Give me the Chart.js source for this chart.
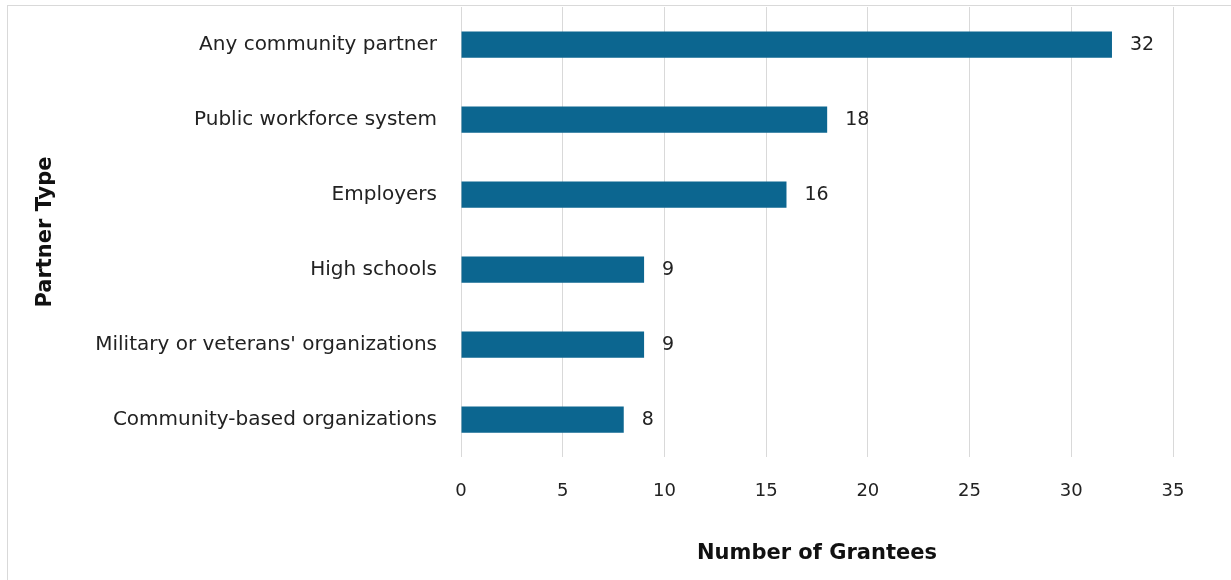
<!DOCTYPE html>
<html>
<head>
<meta charset="utf-8">
<script src="https://cdn.jsdelivr.net/npm/chart.js@4"></script>
<style>
  html, body { margin: 0; padding: 0; background: #fff; }
  #wrap { position: relative; width: 1231px; height: 580px; }
  #frame { position: absolute; left: 7px; top: 5px; right: 0; bottom: 0;
           border-top: 1px solid #d9d9d9; border-left: 1px solid #d9d9d9; }
  canvas { position: absolute; left: 0; top: 0; }
</style>
</head>
<body>
<div id="wrap">
  <div id="frame"></div>
  <canvas id="chart" width="1231" height="580"></canvas>
</div>
<script>
const partnerTypes = [
    'Any community partner',
    'Public workforce system',
    'Employers',
    'High schools',
    "Military or veterans' organizations",
    'Community-based organizations'
];
const grantees = [32, 18, 16, 9, 9, 8];
const xTicks = [0, 5, 10, 15, 20, 25, 30, 35];

const FONT = '"DejaVu Sans", sans-serif';
const TEXT = '#222';

// numbers at the end of each bar
const valueLabels = {
    id: 'valueLabels',
    afterDatasetsDraw(chart) {
        const ctx = chart.ctx;
        const meta = chart.getDatasetMeta(0);
        ctx.save();
        ctx.font = '19px ' + FONT;
        ctx.fillStyle = TEXT;
        ctx.textBaseline = 'middle';
        ctx.textAlign = 'left';
        meta.data.forEach((bar, i) => {
            ctx.fillText(String(grantees[i]), bar.x + 18, bar.y + 1);
        });
        ctx.restore();
    }
};

const ctx = document.getElementById('chart').getContext('2d');
const chart = new Chart(ctx, {
    type: 'bar',
    data: {
        labels: partnerTypes,
        datasets: [{
            data: grantees,
            backgroundColor: '#0c6690',
            barPercentage: 0.7,
            categoryPercentage: 0.5
        }]
    },
    options: {
        indexAxis: 'y',
        responsive: false,
        animation: false,
        layout: { padding: { top: 7, right: 58, left: 0, bottom: 0 } },
        plugins: { legend: { display: false }, tooltip: { enabled: false } },
        scales: {
            x: {
                min: 0,
                max: 35,
                afterBuildTicks: scale => { scale.ticks = xTicks.map(v => ({ value: v })); },
                afterFit: scale => {
                    scale.height = 123;
                    scale.paddingLeft = 0;
                    scale.paddingRight = 0;
                },
                border: { display: false },
                grid: { color: '#d9d9d9', lineWidth: 1, drawTicks: false },
                ticks: { color: TEXT, font: { family: FONT, size: 18 }, padding: 24 },
                title: {
                    display: true,
                    text: 'Number of Grantees',
                    color: '#111',
                    font: { family: FONT, size: 21, weight: 'bold' },
                    padding: { top: 6, bottom: 14 }
                }
            },
            y: {
                afterFit: scale => {
                    scale.width = 461;
                    scale.paddingTop = 0;
                    scale.paddingBottom = 0;
                },
                border: { display: false },
                grid: { display: false, drawTicks: false },
                ticks: { color: TEXT, font: { family: FONT, size: 20 }, padding: 24 },
                title: {
                    display: true,
                    text: 'Partner Type',
                    color: '#111',
                    font: { family: FONT, size: 21, weight: 'bold' },
                    padding: { top: 33, bottom: 0 }
                }
            }
        }
    },
    plugins: [valueLabels]
});
</script>
</body>
</html>
